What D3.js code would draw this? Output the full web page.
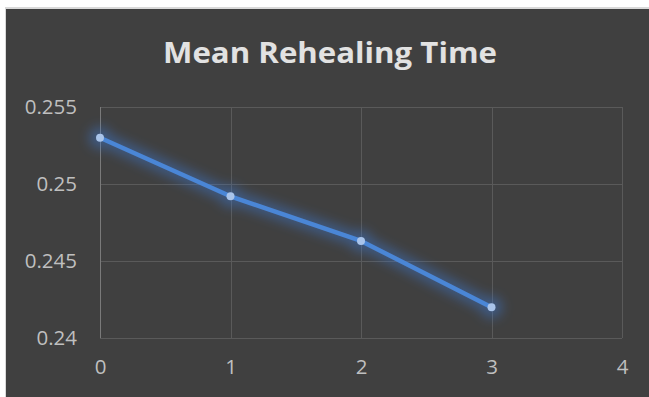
<!DOCTYPE html>
<html>
<head>
<meta charset="utf-8">
<script src="https://cdn.jsdelivr.net/npm/d3@7"></script>
<style>
  html, body { margin: 0; padding: 0; background: #ffffff; }
  svg { display: block; }
</style>
</head>
<body>
<svg id="chart" width="649" height="397"></svg>
<script>
// Series: mean rehealing time per step
const xValues = [0, 1, 2, 3];
const meanTimes = [0.2530, 0.2492, 0.2463, 0.2420];
const xTicks = [0, 1, 2, 3, 4];
const yTicks = [0.24, 0.245, 0.25, 0.255];
const titleText = "Mean Rehealing Time";

const W = 649, H = 397;
const svg = d3.select("#chart");

// Card background with light frame on top and left
svg.append("rect").attr("x", 5).attr("y", 7).attr("width", W - 5).attr("height", H - 7)
  .attr("fill", "#d9d9d9");
svg.append("rect").attr("x", 6).attr("y", 9).attr("width", W - 6).attr("height", H - 9)
  .attr("fill", "#404040");

const plot = { left: 100, right: 622, top: 107, bottom: 338 };

const x = d3.scaleLinear().domain([0, 4]).range([plot.left, plot.right]);
const y = d3.scaleLinear().domain([0.24, 0.255]).range([plot.bottom, plot.top]);

// Blur used for the soft halo under the series
const defs = svg.append("defs");
defs.append("filter").attr("id", "halo")
  .attr("x", "-20%").attr("y", "-40%").attr("width", "140%").attr("height", "180%")
  .append("feGaussianBlur").attr("stdDeviation", 6);

// Gridlines
const grid = svg.append("g");
grid.selectAll("line.h").data(yTicks).join("line")
  .attr("x1", plot.left).attr("x2", plot.right)
  .attr("y1", d => Math.round(y(d)) + 0.5).attr("y2", d => Math.round(y(d)) + 0.5)
  .attr("stroke", "#5a5a5a").attr("stroke-width", 1);
grid.selectAll("line.v").data(xTicks).join("line")
  .attr("y1", plot.top).attr("y2", plot.bottom)
  .attr("x1", d => Math.round(x(d)) + 0.5).attr("x2", d => Math.round(x(d)) + 0.5)
  .attr("stroke", d => d === 0 ? "#7a7a7a" : "#5a5a5a").attr("stroke-width", 1);

// Axes (labels only, no domain line or ticks)
const labelFont = "'Open Sans', 'Noto Sans', sans-serif";
const yAxis = d3.axisLeft(y).tickValues(yTicks).tickSize(0).tickPadding(0)
  .tickFormat(d => String(+d.toFixed(3)));
const gy = svg.append("g").attr("transform", `translate(77,0)`).call(yAxis);
gy.select(".domain").remove();
gy.selectAll("text").attr("fill", "#bfbfbf").attr("font-size", 20.5)
  .attr("font-family", labelFont);

const xAxis = d3.axisBottom(x).tickValues(xTicks).tickSize(0).tickPadding(0)
  .tickFormat(d3.format("d"));
const gx = svg.append("g").attr("transform", `translate(0,${plot.bottom + 21})`).call(xAxis);
gx.select(".domain").remove();
gx.selectAll("text").attr("fill", "#bfbfbf").attr("font-size", 20.5)
  .attr("font-family", labelFont);

// Title
svg.append("text").attr("x", 330).attr("y", 63).attr("text-anchor", "middle")
  .attr("fill", "#e2e2e2").attr("font-size", 29).attr("font-weight", "bold")
  .attr("font-family", labelFont)
  .attr("textLength", 334).attr("lengthAdjust", "spacingAndGlyphs")
  .text(titleText);

// Series: blurred halo, then line and markers
const data = xValues.map((v, i) => ({ x: v, y: meanTimes[i] }));
const line = d3.line().x(d => x(d.x)).y(d => y(d.y));
const halo = svg.append("g").attr("filter", "url(#halo)").attr("opacity", 0.45);
halo.append("path").datum(data).attr("d", line)
  .attr("fill", "none").attr("stroke", "#3d7ad6").attr("stroke-width", 14)
  .attr("stroke-linejoin", "round").attr("stroke-linecap", "round");
halo.selectAll("circle").data(data).join("circle")
  .attr("cx", d => x(d.x)).attr("cy", d => y(d.y)).attr("r", 11)
  .attr("fill", "#3d7ad6");

svg.append("path").datum(data).attr("d", line)
  .attr("fill", "none").attr("stroke", "#4a86d6").attr("stroke-width", 4.5)
  .attr("stroke-linejoin", "round").attr("stroke-linecap", "round");
svg.append("g").selectAll("circle").data(data).join("circle")
  .attr("cx", d => x(d.x)).attr("cy", d => y(d.y)).attr("r", 4)
  .attr("fill", "#a9c4ea");
</script>
</body>
</html>
